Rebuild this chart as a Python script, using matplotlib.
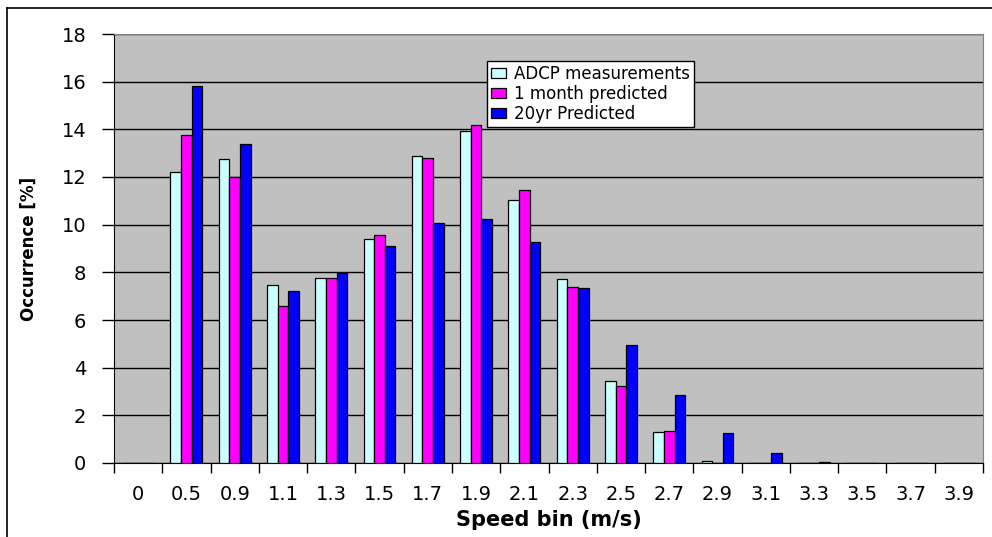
import matplotlib.pyplot as plt
import numpy as np

plt.rcParams['font.family'] = ['DejaVu Sans']

speedBins = ['0', '0.5', '0.9', '1.1', '1.3', '1.5', '1.7', '1.9', '2.1',
             '2.3', '2.5', '2.7', '2.9', '3.1', '3.3', '3.5', '3.7', '3.9']
adcp = [0, 12.2, 12.75, 7.45, 7.75, 9.4, 12.9, 13.95, 11.05,
        7.72, 3.42, 1.3, 0.1, 0, 0, 0, 0, 0]
month1 = [0, 13.75, 12.0, 6.6, 7.78, 9.58, 12.8, 14.18, 11.45,
          7.38, 3.24, 1.33, 0, 0, 0, 0, 0, 0]
yr20 = [0, 15.83, 13.37, 7.2, 7.99, 9.09, 10.06, 10.25, 9.27,
        7.33, 4.95, 2.87, 1.27, 0.44, 0.03, 0, 0, 0]
seriesNames = ['ADCP measurements', '1 month predicted', '20yr Predicted']
seriesColors = ['#CCFFFF', '#FF00FF', '#0000FF']


def plotOccurrence(dest='out.png'):
	fig = plt.figure(figsize=(9.92, 5.37), dpi=100)
	ax = fig.add_axes([114/992, 1-463/537, (983-114)/992, (463-34)/537])
	ax.set_facecolor('#C0C0C0')

	x = np.arange(len(speedBins))
	w = 0.22
	for i, (vals, name, col) in enumerate(zip([adcp, month1, yr20], seriesNames, seriesColors)):
		ax.bar(x + (i - 1) * w, vals, width=w, color=col, edgecolor='black',
			linewidth=0.9, label=name, zorder=3)

	ax.set_xlim(-0.5, len(speedBins) - 0.5)
	ax.set_ylim(0, 18)
	ax.set_yticks(np.arange(0, 19, 2))
	ax.yaxis.grid(True, color='black', linewidth=1.0, zorder=1)
	ax.set_axisbelow(True)

	# boundary ticks without labels, labels centred on bins
	ax.set_xticks(np.arange(len(speedBins) + 1) - 0.5)
	ax.set_xticklabels([])
	ax.set_xticks(x, minor=True)
	ax.set_xticklabels(speedBins, minor=True)
	ax.tick_params(axis='x', which='major', length=7, width=1, direction='out')
	ax.tick_params(axis='x', which='minor', length=0, pad=16, labelsize=14)
	ax.tick_params(axis='y', length=9, width=1, direction='out', pad=11, labelsize=14)

	for s in ['top', 'right']:
		ax.spines[s].set_color('#808080')
	for s in ['left', 'bottom']:
		ax.spines[s].set_color('black')

	ax.set_xlabel('Speed bin (m/s)', fontsize=15, fontweight='bold', labelpad=4)
	ax.set_ylabel('Occurrence [%]', fontsize=12, fontweight='bold', labelpad=17)

	leg = ax.legend(loc='upper left', bbox_to_anchor=(0.429, 0.937), fontsize=12,
		frameon=True, fancybox=False, framealpha=1, edgecolor='black',
		handlelength=0.9, handleheight=0.55, handletextpad=0.5,
		labelspacing=0.12, borderpad=0.25, borderaxespad=0)
	leg.get_frame().set_linewidth(1.0)

	# outer chart frame
	fx = 7/992
	fy = 1 - 8/537
	fig.add_artist(plt.Line2D([fx, fx], [0, fy], color='black', linewidth=1.2))
	fig.add_artist(plt.Line2D([fx, 1], [fy, fy], color='black', linewidth=1.2))

	fig.savefig(dest, dpi=100)
	plt.close(fig)


plotOccurrence()
